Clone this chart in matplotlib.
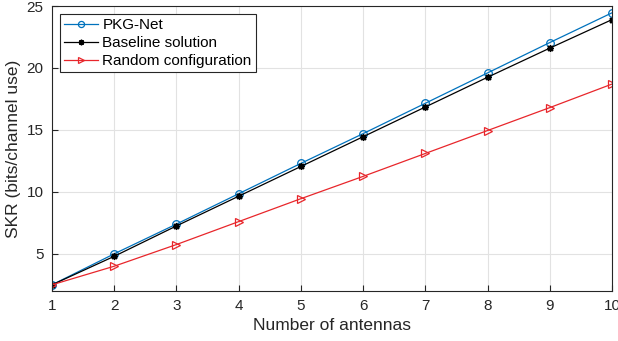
import numpy as np
import matplotlib
matplotlib.use("Agg")
import matplotlib.pyplot as plt

plt.rcParams['font.family'] = ['Liberation Sans', 'DejaVu Sans']

antennas = [1, 2, 3, 4, 5, 6, 7, 8, 9, 10]
pkg_net = [2.5, 5.0, 7.4, 9.85, 12.3, 14.7, 17.15, 19.6, 22.05, 24.45]
baseline = [2.5, 4.8, 7.25, 9.65, 12.05, 14.45, 16.85, 19.25, 21.6, 23.9]
random_cfg = [2.5, 4.0, 5.75, 7.6, 9.45, 11.25, 13.1, 14.95, 16.8, 18.7]

fig = plt.figure(figsize=(6.18, 3.41), dpi=100)
ax = fig.add_axes([52 / 618, 50 / 341, 560 / 618, 285 / 341])

ax.plot(antennas, pkg_net, color='#0072BD', marker='o', markersize=5.5,
        markerfacecolor='none', markeredgewidth=0.9, linewidth=0.9, label='PKG-Net')
ax.plot(antennas, baseline, color='black', marker=(8, 2, 0), markersize=5,
        markeredgewidth=1.0, linewidth=0.9, label='Baseline solution')
ax.plot(antennas, random_cfg, color='#E8262B', marker='>', markersize=6,
        markerfacecolor='none', markeredgewidth=0.9, linewidth=0.9,
        label='Random configuration')

ax.set_xlim(1, 10)
ax.set_ylim(2, 25)
ax.set_xticks(antennas)
ax.set_yticks([5, 10, 15, 20, 25])
ax.grid(True, color='#e2e2e2', linewidth=0.8)
ax.set_axisbelow(True)
ax.tick_params(direction='in', length=4, pad=6, labelsize=11, colors='#262626')
for s in ax.spines.values():
    s.set_color('#262626')
    s.set_linewidth(0.8)

ax.set_xlabel('Number of antennas', fontsize=12.5, color='#262626', labelpad=3)
ax.set_ylabel('SKR (bits/channel use)', fontsize=12.5, color='#262626', labelpad=4)

leg = ax.legend(loc='upper left', fontsize=11, fancybox=False, framealpha=1,
                edgecolor='#262626', borderaxespad=0.5, handlelength=2.2,
                labelspacing=0.25, borderpad=0.3, handletextpad=0.3,
                markerscale=0.8)
leg.get_frame().set_linewidth(0.8)

plt.savefig('out.png', dpi=100)
